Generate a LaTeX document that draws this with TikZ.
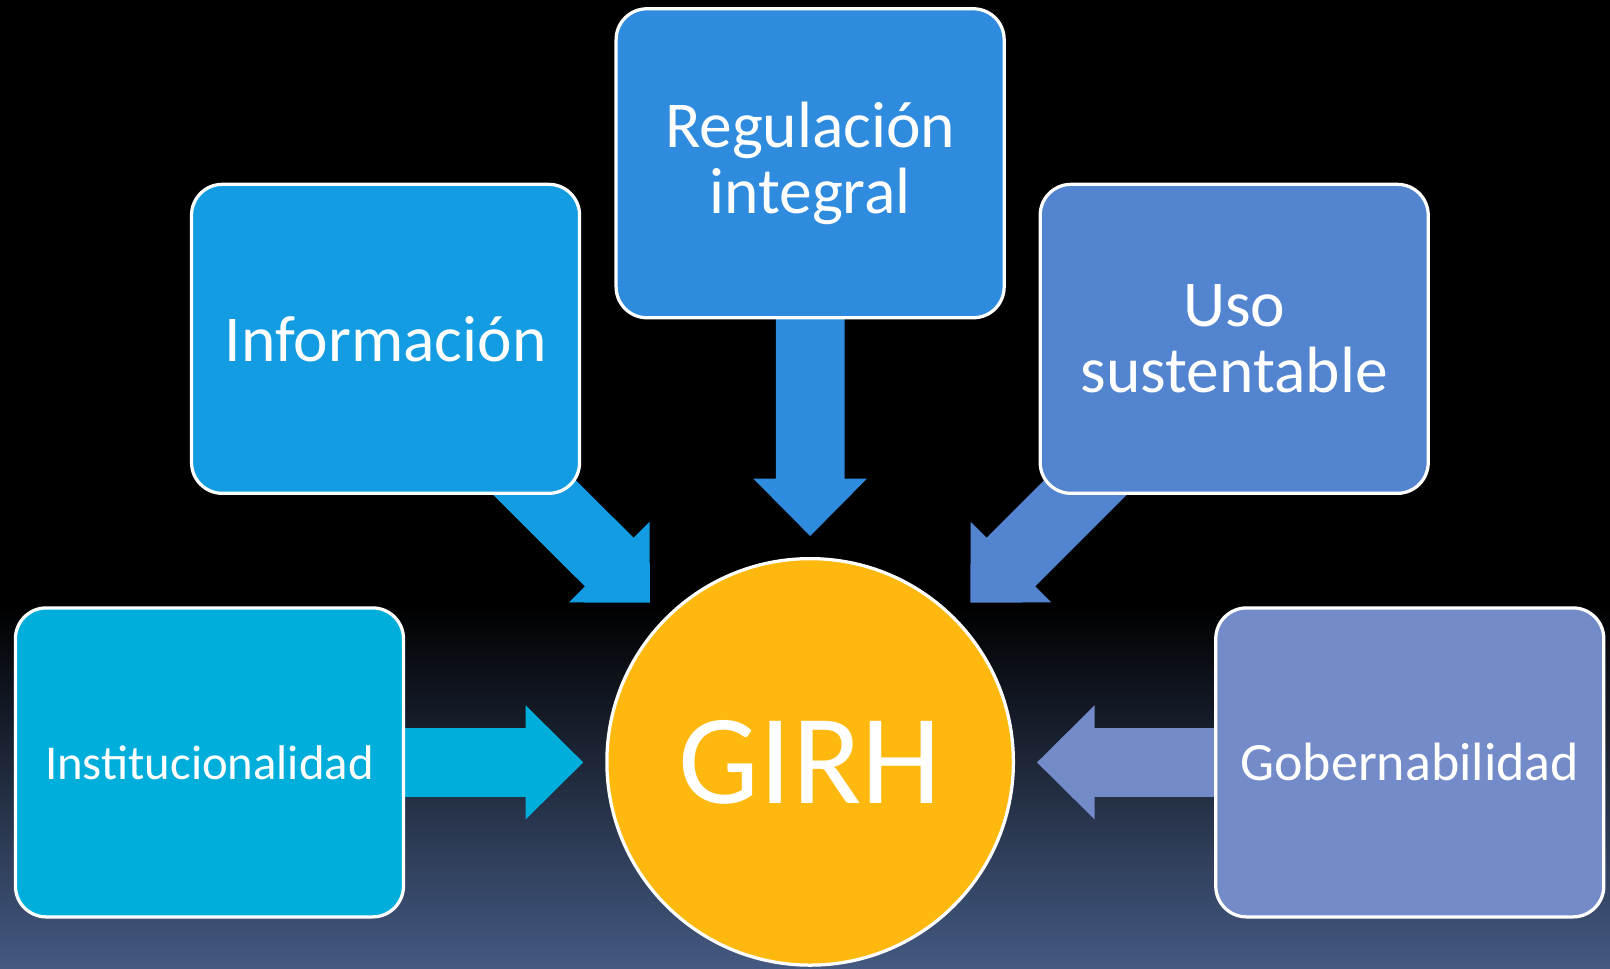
\documentclass[tikz,border=0pt]{standalone}
\usepackage{fontspec}
\setmainfont{Carlito}
\usetikzlibrary{calc,backgrounds}
\definecolor{cInst}{HTML}{00AEDB}
\definecolor{cInfo}{HTML}{139CE2}
\definecolor{cReg}{HTML}{2F8BDD}
\definecolor{cUso}{HTML}{5384D0}
\definecolor{cGob}{HTML}{738BC8}
\definecolor{cGold}{HTML}{FFB80D}
\definecolor{bgBot}{HTML}{445A82}
% block arrow: colour, from (node), to (coordinate)
\newcommand\blockarr[3]{%
  \fill[#1] ($(#2)!0.67cm!90:(#3)$)
    -- ($($(#3)!1.12cm!(#2)$)!0.67cm!-90:(#2)$)
    -- ($($(#3)!1.12cm!(#2)$)!1.11cm!-90:(#2)$)
    -- (#3)
    -- ($($(#3)!1.12cm!(#2)$)!1.11cm!90:(#2)$)
    -- ($($(#3)!1.12cm!(#2)$)!0.67cm!90:(#2)$)
    -- ($(#2)!0.67cm!-90:(#3)$) -- cycle;}
\begin{document}
\begin{tikzpicture}[x=0.02cm,y=-0.02cm,
  box/.style={draw=white, line width=1.8pt, rounded corners=0.6cm, minimum width=7.56cm, minimum height=6.02cm, text=white, align=center, inner sep=0pt},
  lbl/.style={font=\fontsize{36.3}{36.4}\selectfont},
]
\useasboundingbox (0,0) rectangle (1568,943);
\node[box, fill=cInst, font=\fontsize{27}{32}\selectfont] (inst) at (204,742.5) {Institucionalidad};
\node[box, fill=cInfo, lbl] (info) at (375.5,330) {Información};
\node[box, fill=cReg, lbl] (reg) at (789,159) {Regulación\\integral};
\node[box, fill=cUso, lbl] (uso) at (1202,330) {Uso\\sustentable};
\node[box, fill=cGob, font=\fontsize{29.9}{34}\selectfont] (gob) at (1373,742.5) {Gobernabilidad};
\node[circle, draw=white, line width=1.8pt, fill=cGold, minimum size=7.92cm, inner sep=0pt, text=white, font=\fontsize{71}{80}\selectfont] (girh) at (789,742) {GIRH};
\coordinate (tInst) at (568,742.5);
\coordinate (tInfo) at (633,587);
\coordinate (tReg) at (789,522);
\coordinate (tUso) at (945,587);
\coordinate (tGob) at (1010,742.5);
\begin{scope}[on background layer]
  \fill[black] (0,0) rectangle (1568,943);
  \shade[top color=black, bottom color=bgBot] (0,590) rectangle (1568,943);
  \blockarr{cInst}{inst.center}{tInst}
  \blockarr{cInfo}{info.center}{tInfo}
  \blockarr{cReg}{reg.center}{tReg}
  \blockarr{cUso}{uso.center}{tUso}
  \blockarr{cGob}{gob.center}{tGob}
\end{scope}
\end{tikzpicture}
\end{document}
